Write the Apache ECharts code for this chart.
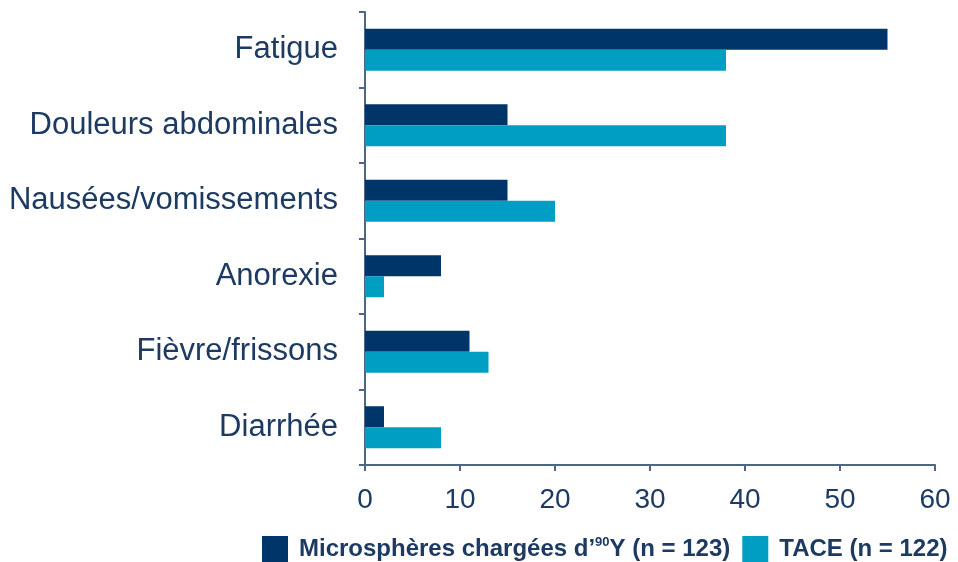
<!DOCTYPE html>
<html>
<head>
<meta charset="utf-8">
<script src="https://cdn.jsdelivr.net/npm/echarts@6/dist/echarts.min.js"></script>
<style>
  html, body { margin: 0; padding: 0; background: #ffffff; }
  #chart { width: 958px; height: 562px; }
</style>
</head>
<body>
<div id="chart"></div>
<script>
// Effets indésirables (%) par type de traitement
const categories = ['Fatigue', 'Douleurs abdominales', 'Nausées/vomissements', 'Anorexie', 'Fièvre/frissons', 'Diarrhée'];
const microspheres = [55, 15, 15, 8, 11, 2];
const tace = [38, 38, 20, 2, 13, 8];
const xTicks = [0, 10, 20, 30, 40, 50, 60];

const seriesNames = ['Microsphères chargées d’90Y (n = 123)', 'TACE (n = 122)'];

const NAVY = '#00356a';
const CYAN = '#009ec2';
const AXIS = '#4d6688';
const TEXT = '#1c3a62';
const FONT = 'Liberation Sans, Arial, sans-serif';

const chart = echarts.init(document.getElementById('chart'));

chart.setOption({
  backgroundColor: '#ffffff',
  animation: false,
  grid: { left: 365, right: 23, top: 12, bottom: 97, containLabel: false },
  legend: {
    left: 257,
    top: 531,
    itemWidth: 26,
    itemHeight: 26,
    itemGap: 12,
    icon: 'rect',
    data: seriesNames,
    formatter: function (name) {
      if (name === seriesNames[0]) {
        return '{g|}{a|Microsphères chargées d’}{s|90}{a|Y (n = 123)}';
      }
      return '{g|}{a|' + name + '}';
    },
    textStyle: {
      rich: {
        g: { width: 6 },
        a: { fontFamily: FONT, fontWeight: 'bold', fontSize: 24, color: TEXT },
        s: { fontFamily: FONT, fontWeight: 'bold', fontSize: 13, color: TEXT, padding: [0, 0, 13, 0] }
      }
    }
  },
  xAxis: {
    type: 'value',
    min: xTicks[0],
    max: xTicks[xTicks.length - 1],
    interval: xTicks[1] - xTicks[0],
    axisLine: { show: true, lineStyle: { color: AXIS, width: 2 } },
    axisTick: { show: true, length: 6, lineStyle: { color: AXIS, width: 2 } },
    splitLine: { show: false },
    axisLabel: {
      margin: 21,
      fontFamily: FONT,
      fontSize: 28,
      color: TEXT
    }
  },
  yAxis: {
    type: 'category',
    data: categories,
    inverse: true,
    axisLine: { show: true, lineStyle: { color: AXIS, width: 2 } },
    axisTick: { show: true, length: 6, lineStyle: { color: AXIS, width: 2 } },
    axisLabel: {
      margin: 27,
      fontFamily: FONT,
      fontSize: 31,
      color: TEXT
    }
  },
  series: [
    {
      name: seriesNames[0],
      type: 'bar',
      data: microspheres,
      barWidth: 21,
      barGap: '0%',
      itemStyle: { color: NAVY }
    },
    {
      name: seriesNames[1],
      type: 'bar',
      data: tace,
      barWidth: 21,
      barGap: '0%',
      itemStyle: { color: CYAN }
    }
  ]
});
</script>
</body>
</html>
